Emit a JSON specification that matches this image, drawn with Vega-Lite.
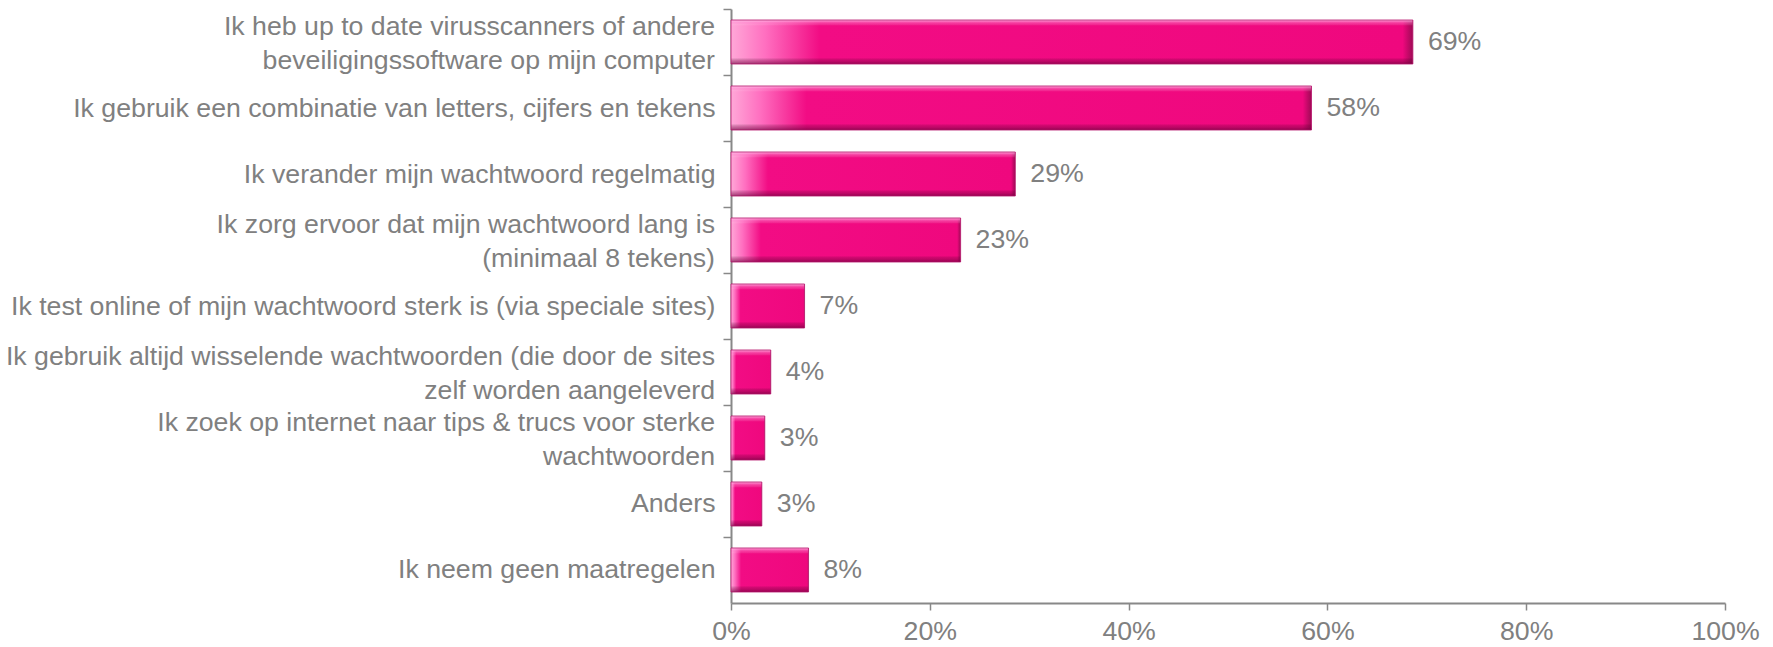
{
  "$schema": "https://vega.github.io/schema/vega-lite/v6.json",
  "width": 994,
  "height": 594,
  "autosize": "none",
  "padding": {"left": 731, "top": 9, "right": 48, "bottom": 44},
  "background": "white",
  "config": {"view": {"stroke": null}, "font": "Liberation Sans"},
  "data": {
    "values": [
      {"item": "Ik heb up to date virusscanners of andere|beveiligingssoftware op mijn computer", "value": 0.686},
      {"item": "Ik gebruik een combinatie van letters, cijfers en tekens", "value": 0.584},
      {"item": "Ik verander mijn wachtwoord regelmatig", "value": 0.286},
      {"item": "Ik zorg ervoor dat mijn wachtwoord lang is|(minimaal 8 tekens)", "value": 0.231},
      {"item": "Ik test online of mijn wachtwoord sterk is (via speciale sites)", "value": 0.074},
      {"item": "Ik gebruik altijd wisselende wachtwoorden (die door de sites|zelf worden aangeleverd", "value": 0.040},
      {"item": "Ik zoek op internet naar tips & trucs voor sterke|wachtwoorden", "value": 0.034},
      {"item": "Anders", "value": 0.031},
      {"item": "Ik neem geen maatregelen", "value": 0.078}
    ]
  },
  "encoding": {
    "y": {
      "field": "item",
      "type": "nominal",
      "sort": null,
      "title": null,
      "scale": {"paddingInner": 0.3333, "paddingOuter": 0.16667},
      "axis": {
        "tickOffset": -33,
        "labelOffset": 33,
        "labelExpr": "indexof(datum.label, '|') >= 0 ? '' : datum.label",
        "labelFont": "Liberation Sans",
        "labelFontSize": 26.7,
        "labelColor": "#808080",
        "labelLimit": 1000,
        "labelPadding": 8,
        "labelBaseline": "middle",
        "tickSize": 8,
        "tickColor": "#888888",
        "tickWidth": 1.5,
        "domainColor": "#888888",
        "domainWidth": 2
      }
    },
    "x": {
      "field": "value",
      "type": "quantitative",
      "title": null,
      "scale": {"domain": [0, 1], "nice": false},
      "axis": {
        "values": [0, 0.2, 0.4, 0.6, 0.8, 1],
        "format": ".0%",
        "grid": false,
        "labelFlush": false,
        "labelFont": "Liberation Sans",
        "labelFontSize": 26.7,
        "labelColor": "#808080",
        "labelPadding": 8,
        "tickSize": 7,
        "tickColor": "#888888",
        "tickWidth": 1.5,
        "domainColor": "#888888",
        "domainWidth": 2
      }
    }
  },
  "layer": [
    {
      "mark": {
        "type": "bar",
        "color": {
          "gradient": "linear",
          "x1": 0, "x2": 1, "y1": 0, "y2": 0,
          "stops": [
            {"offset": 0, "color": "#ffa8d8"},
            {"offset": 0.05, "color": "#ff6fc0"},
            {"offset": 0.13, "color": "#f20c84"},
            {"offset": 0.985, "color": "#ef087e"},
            {"offset": 1, "color": "#9e0a55"}
          ]
        }
      }
    },
    {
      "mark": {
        "type": "bar",
        "stroke": "#b5136a",
        "strokeWidth": 0.8,
        "color": {
          "gradient": "linear",
          "x1": 0, "x2": 0, "y1": 0, "y2": 1,
          "stops": [
            {"offset": 0, "color": "rgba(255,200,235,0.85)"},
            {"offset": 0.07, "color": "rgba(255,140,210,0.35)"},
            {"offset": 0.13, "color": "rgba(255,255,255,0)"},
            {"offset": 0.86, "color": "rgba(0,0,0,0)"},
            {"offset": 0.93, "color": "rgba(110,0,60,0.35)"},
            {"offset": 1, "color": "rgba(80,0,45,0.6)"}
          ]
        }
      }
    },
    {
      "mark": {
        "type": "text",
        "align": "left",
        "baseline": "middle",
        "dx": 15,
        "font": "Liberation Sans",
        "fontSize": 26.7,
        "color": "#808080"
      },
      "encoding": {
        "text": {"field": "value", "type": "quantitative", "format": ".0%"}
      }
    },
    {
      "transform": [{"filter": "indexof(datum.item, '|') >= 0"}],
      "mark": {
        "type": "text",
        "align": "right",
        "baseline": "line-bottom",
        "lineBreak": "|",
        "lineHeight": 34,
        "dx": -16,
        "dy": 2,
        "font": "Liberation Sans",
        "fontSize": 26.7,
        "color": "#808080"
      },
      "encoding": {
        "x": {"datum": 0},
        "text": {"field": "item", "type": "nominal"}
      }
    }
  ]
}
